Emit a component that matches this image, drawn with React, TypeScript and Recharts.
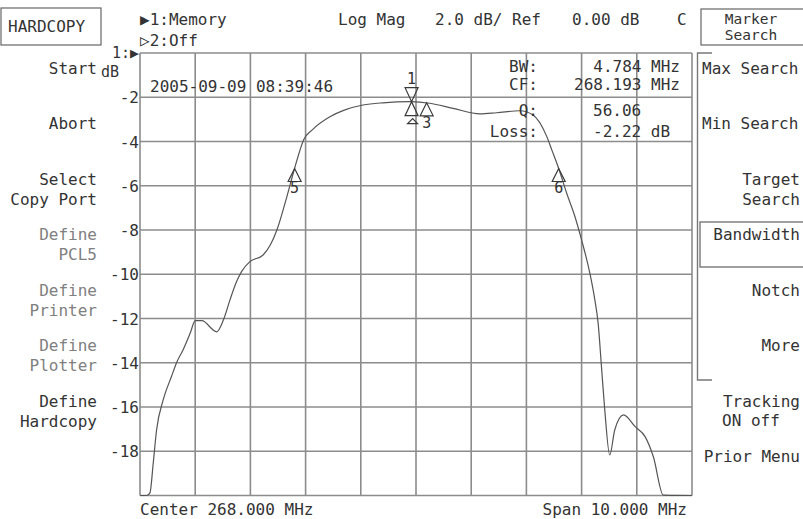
import { LineChart, Line, XAxis, YAxis, CartesianGrid, ReferenceDot } from "recharts";

// trace (MHz / dB)
const freqMHz = [
  263.0, 263.12, 263.18, 263.24, 263.3, 263.42, 263.57, 263.67, 263.78, 263.91,
  264.0, 264.12, 264.39, 264.51, 264.63, 264.75, 264.84, 264.99, 265.23, 265.36,
  265.48, 265.66, 265.8, 265.97, 266.13, 266.44, 266.7, 267.04, 267.4, 267.9,
  268.25, 268.67, 269.16, 269.46, 269.88, 270.12, 270.37, 270.46, 270.585, 270.73,
  270.88, 271.0, 271.15, 271.24, 271.3, 271.36, 271.42, 271.51, 271.6, 271.76,
  271.97, 272.15, 272.3, 272.48, 273.0,
];
const magDb = [
  -20.0, -20.0, -19.88, -18.53, -17.04, -15.68, -14.62, -13.95, -13.42, -12.66,
  -12.1, -12.1, -12.6, -12.07, -11.16, -10.33, -9.88, -9.43, -9.13, -8.68,
  -8.0, -6.5, -5.22, -3.9, -3.45, -2.88, -2.58, -2.35, -2.25, -2.2,
  -2.27, -2.5, -2.75, -2.7, -2.61, -2.8, -3.78, -4.38, -5.22, -6.34,
  -7.4, -8.45, -9.96, -11.16, -12.22, -14.18, -16.14, -18.17, -17.04, -16.36,
  -16.89, -17.34, -18.25, -19.98, -20.0,
];

const dbTicks = [0, -2, -4, -6, -8, -10, -12, -14, -16, -18, -20];
const freqTicks = [263, 264, 265, 266, 267, 268, 269, 270, 271, 272, 273];

const markerIds = ["1", "3", "5", "6"];
const markerFreq = [267.92, 268.193, 265.801, 270.585];
const markerDb = [-2.2, -2.25, -5.22, -5.22];

const data = freqMHz.map((f, i) => ({ f, db: magDb[i] }));

const FONT = "'DejaVu Sans Mono', monospace";
const INK = "#333";
const DIM = "#808080";
const GRID = "#8c8c8c";

function T({ x, y, a = "start", c = INK, s = 16, children }: any) {
  return (
    <text x={x} y={y} textAnchor={a} fill={c} stroke="none" fontSize={s} fontFamily={FONT}>
      {children}
    </text>
  );
}

function NoTick() {
  return <g />;
}

function DbTick(props: any) {
  const { x, y, payload } = props;
  const v = payload.value;
  if (v === -20) return null;
  if (v === 0) {
    return (
      <g>
        <T x={x} y={y + 5} a="end" s={15}>1:▶</T>
        <T x={x - 38} y={y + 24} s={15}>dB</T>
      </g>
    );
  }
  return <T x={x} y={y + 6} a="end">{String(v)}</T>;
}

// triangle marker, apex on the trace
function UpMarker(label: string) {
  return (props: any) => {
    const { cx, cy } = props;
    return (
      <g>
        <path
          d={`M${cx},${cy} L${cx - 6.5},${cy + 13} L${cx + 6.5},${cy + 13} Z`}
          fill="none"
          stroke="#3a3a3a"
          strokeWidth={1.2}
        />
        <T x={cx} y={cy + 25} a="middle" s={15}>{label}</T>
      </g>
    );
  };
}

// active marker: bowtie with number above
function ActiveMarker(label: string) {
  return (props: any) => {
    const { cx, cy } = props;
    return (
      <g>
        <g fill="none" stroke="#3a3a3a" strokeWidth={1.2}>
          <path d={`M${cx - 6.5},${cy - 14} L${cx + 6.5},${cy - 14} L${cx},${cy} Z`} />
          <path d={`M${cx},${cy} L${cx - 6.5},${cy + 14} L${cx + 6.5},${cy + 14} Z`} />
          <path d={`M${cx + 1},${cy + 17} L${cx - 4},${cy + 22} L${cx + 6},${cy + 22} Z`} />
        </g>
        <T x={cx} y={cy - 18} a="middle" s={15}>{label}</T>
      </g>
    );
  };
}

export default function App() {
  return (
    <div style={{ position: "fixed", left: 0, top: 0, width: 803, height: 519, background: "#fff" }}>
      <LineChart
        width={803}
        height={519}
        data={data}
        margin={{ top: 53, right: 111, bottom: 23.5, left: 100 }}
      >
        <CartesianGrid stroke={GRID} strokeWidth={1.6} />
        <XAxis
          dataKey="f"
          type="number"
          domain={[263, 273]}
          ticks={freqTicks}
          interval={0}
          tick={<NoTick />}
          axisLine={false}
          tickLine={false}
          height={0}
        />
        <YAxis
          type="number"
          domain={[-20, 0]}
          ticks={dbTicks}
          interval={0}
          width={40}
          axisLine={false}
          tickLine={false}
          tickSize={0}
          tickMargin={1}
          tick={<DbTick />}
        />
        <Line
          type="monotone"
          dataKey="db"
          stroke="#555"
          strokeWidth={1.2}
          dot={false}
          isAnimationActive={false}
        />
        {markerIds.map((id, i) => (
          <ReferenceDot
            key={id}
            x={markerFreq[i]}
            y={markerDb[i]}
            r={6}
            shape={id === "1" ? ActiveMarker(id) : UpMarker(id)}
          />
        ))}
      </LineChart>

      <svg
        width={803}
        height={519}
        style={{ position: "absolute", left: 0, top: 0, pointerEvents: "none" }}
      >
        {/* header */}
        <T x={140} y={25}>▶1:Memory</T>
        <T x={140} y={46}>▷2:Off</T>
        <T x={338} y={25}>Log Mag</T>
        <T x={435} y={25}>2.0 dB/ Ref</T>
        <T x={572} y={25}>0.00 dB</T>
        <T x={677} y={25}>C</T>

        {/* left softkeys */}
        <rect x={1} y={8} width={100} height={37} fill="none" stroke="#666" strokeWidth={1.2} />
        <T x={8} y={32}>HARDCOPY</T>
        <T x={97} y={74} a="end">Start</T>
        <T x={97} y={129} a="end">Abort</T>
        <T x={97} y={185} a="end">Select</T>
        <T x={97} y={205} a="end">Copy Port</T>
        <T x={97} y={240} a="end" c={DIM}>Define</T>
        <T x={97} y={260} a="end" c={DIM}>PCL5</T>
        <T x={97} y={296} a="end" c={DIM}>Define</T>
        <T x={97} y={316} a="end" c={DIM}>Printer</T>
        <T x={97} y={351} a="end" c={DIM}>Define</T>
        <T x={97} y={371} a="end" c={DIM}>Plotter</T>
        <T x={97} y={407} a="end">Define</T>
        <T x={97} y={427} a="end">Hardcopy</T>

        {/* right softkeys */}
        <rect x={701} y={9} width={110} height={36} fill="none" stroke="#666" strokeWidth={1.2} />
        <T x={751} y={24} a="middle" s={14.5}>Marker</T>
        <T x={751} y={40} a="middle" s={14.5}>Search</T>
        <path d="M712,53 L697.5,53 L697.5,380 L712,380" fill="none" stroke="#777" strokeWidth={1.4} />
        <T x={702} y={74}>Max Search</T>
        <T x={702} y={129}>Min Search</T>
        <T x={800} y={185} a="end">Target</T>
        <T x={800} y={205} a="end">Search</T>
        <rect x={700} y={222} width={110} height={45} fill="none" stroke="#777" strokeWidth={1.4} />
        <T x={800} y={240} a="end">Bandwidth</T>
        <T x={800} y={296} a="end">Notch</T>
        <T x={800} y={351} a="end">More</T>
        <T x={800} y={407} a="end">Tracking</T>
        <T x={722} y={426}>ON off</T>
        <T x={800} y={462} a="end">Prior Menu</T>

        {/* readouts inside the graticule */}
        <T x={150} y={92}>2005-09-09 08:39:46</T>
        <T x={538} y={72} a="end">BW:</T>
        <T x={680} y={72} a="end">4.784 MHz</T>
        <T x={538} y={90} a="end">CF:</T>
        <T x={680} y={90} a="end">268.193 MHz</T>
        <T x={538} y={116} a="end">Q:</T>
        <T x={593} y={116}>56.06</T>
        <T x={538} y={137} a="end">Loss:</T>
        <T x={593} y={137}>-2.22 dB</T>

        {/* footer */}
        <T x={140} y={515}>Center 268.000 MHz</T>
        <T x={687} y={515} a="end">Span 10.000 MHz</T>
      </svg>
    </div>
  );
}
